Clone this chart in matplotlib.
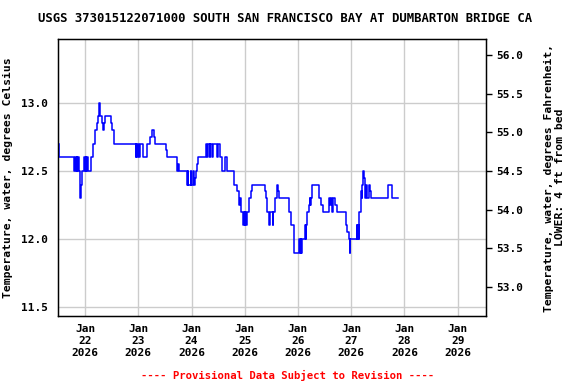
import numpy as np
import matplotlib
matplotlib.use("Agg")
import matplotlib.pyplot as plt
import matplotlib.dates as mdates
from datetime import datetime, timedelta

# hours after 2026-01-22 00:00, water temperature (deg C)
hours = [-11.9, -11.6, -4.8, -4.5, -4.2, -3.8, -3.5, -3.0, -2.7, -2.2,
         -2.1, -1.9, -1.4, -0.4, -0.1, 0.2, 0.6, 0.8, 1.1, 2.9,
         3.8, 4.5, 5.3, 5.9, 6.3, 6.6, 7.8, 8.1, 8.5, 9.0,
         11.5, 12.0, 13.0, 22.8, 23.1, 23.4, 24.0, 24.3, 24.6, 26.3,
         28.1, 29.3, 30.1, 31.1, 31.6, 36.4, 36.8, 41.4, 41.8, 42.3,
         45.9, 46.3, 46.6, 47.6, 47.9, 48.8, 49.1, 49.6, 50.1, 50.5,
         51.1, 54.6, 55.1, 55.5, 56.2, 56.5, 57.4, 57.7, 59.5, 59.8,
         60.9, 61.9, 63.3, 64.1, 67.2, 68.7, 69.2, 69.5, 69.8, 70.1,
         70.4, 71.2, 71.6, 72.0, 72.3, 72.7, 73.2, 74.1, 74.7, 75.3,
         81.0, 81.6, 82.0, 82.8, 83.5, 84.7, 84.9, 85.8, 86.4, 87.1,
         87.6, 92.1, 92.9, 94.4, 96.6, 96.9, 97.2, 97.4, 97.8, 99.2,
         99.5, 99.8, 100.1, 100.8, 101.2, 101.5, 101.9, 102.4, 105.7, 106.5,
         107.1, 110.1, 110.4, 110.8, 111.5, 111.7, 112.8, 113.5, 117.6, 118.3,
         119.1, 119.3, 119.5, 122.5, 122.8, 123.1, 123.4, 123.7, 124.3, 124.5,
         124.7, 124.9, 125.4, 125.7, 126.3, 126.6, 127.0, 127.8, 128.5, 129.0,
         136.4, 136.6, 138.3, 138.6, 141.3]
temp_c = [12.7, 12.6, 12.5, 12.6, 12.5, 12.6, 12.5, 12.6, 12.5, 12.4,
          12.3, 12.4, 12.5, 12.6, 12.5, 12.6, 12.5, 12.6, 12.5, 12.6,
          12.7, 12.8, 12.85, 12.9, 13.0, 12.9, 12.85, 12.8, 12.85, 12.9,
          12.85, 12.8, 12.7, 12.6, 12.7, 12.6, 12.7, 12.6, 12.7, 12.6,
          12.7, 12.75, 12.8, 12.75, 12.7, 12.65, 12.6, 12.5, 12.55, 12.5,
          12.4, 12.5, 12.4, 12.5, 12.4, 12.5, 12.4, 12.45, 12.5, 12.55,
          12.6, 12.7, 12.6, 12.7, 12.6, 12.7, 12.6, 12.7, 12.6, 12.7,
          12.6, 12.5, 12.6, 12.5, 12.4, 12.35, 12.3, 12.25, 12.3, 12.25,
          12.2, 12.1, 12.2, 12.1, 12.2, 12.1, 12.2, 12.3, 12.35, 12.4,
          12.35, 12.3, 12.2, 12.1, 12.2, 12.1, 12.2, 12.3, 12.4, 12.35,
          12.3, 12.2, 12.1, 11.9, 12.0, 11.9, 12.0, 11.9, 12.0, 12.1,
          12.0, 12.1, 12.2, 12.25, 12.3, 12.25, 12.3, 12.4, 12.3, 12.25,
          12.2, 12.3, 12.25, 12.3, 12.2, 12.3, 12.25, 12.2, 12.1, 12.05,
          12.0, 11.9, 12.0, 12.1, 12.0, 12.1, 12.0, 12.2, 12.3, 12.35,
          12.3, 12.4, 12.5, 12.45, 12.3, 12.4, 12.3, 12.4, 12.35, 12.3,
          12.35, 12.4, 12.35, 12.3, 12.3]

day_labels = ["Jan\n22\n2026", "Jan\n23\n2026", "Jan\n24\n2026", "Jan\n25\n2026",
              "Jan\n26\n2026", "Jan\n27\n2026", "Jan\n28\n2026", "Jan\n29\n2026"]
c_ticks = [11.5, 12.0, 12.5, 13.0]
f_ticks = [53.0, 53.5, 54.0, 54.5, 55.0, 55.5, 56.0]

title = "USGS 373015122071000 SOUTH SAN FRANCISCO BAY AT DUMBARTON BRIDGE CA"
footer = "---- Provisional Data Subject to Revision ----"

plt.rcParams['font.family'] = ['DejaVu Sans Mono']
plt.rcParams['font.weight'] = 'bold'
fs = 8.0

t0 = datetime(2026, 1, 22)
times = [t0 + timedelta(hours=h) for h in hours]
day_ticks = [t0 + timedelta(days=i) for i in range(len(day_labels))]

fig = plt.figure(figsize=(5.76, 3.84), dpi=100)
ax = fig.add_axes([0.1007, 0.1771, 0.7439, 0.7206])
ax.plot(times, temp_c, color='#0000ff', lw=1.1, drawstyle='steps-post', zorder=3)

ax.set_xlim(t0 - timedelta(hours=12.2), t0 + timedelta(hours=7 * 24 + 13))
ax.set_ylim(11.436, 13.465)
ax.set_xticks(day_ticks)
ax.set_xticklabels(day_labels, fontsize=fs, fontweight='bold', linespacing=1.2)
ax.set_yticks(c_ticks)
ax.set_yticklabels(["%.1f" % v for v in c_ticks], fontsize=fs, fontweight='bold')
ax.tick_params(axis='x', length=0, pad=6)
ax.tick_params(axis='y', length=0, pad=7)
ax.grid(True, color='#cccccc', lw=1.0, zorder=0)
ax.set_axisbelow(True)
for s in ax.spines.values():
    s.set_linewidth(1.0)
ax.set_ylabel("Temperature, water, degrees Celsius", fontsize=8.2, fontweight='bold')
ax.yaxis.set_label_coords(-0.105, 0.5)

ax2 = ax.twinx()
ax2.set_ylim(52.624, 56.203)
ax2.set_yticks(f_ticks)
ax2.set_yticklabels(["%.1f" % v for v in f_ticks], fontsize=fs, fontweight='bold')
ax2.tick_params(axis='y', length=4, width=1, pad=3)
ax2.set_ylabel("Temperature, water, degrees Fahrenheit,\nLOWER: 4 ft from bed",
               fontsize=8.2, fontweight='bold', linespacing=1.15)
ax2.yaxis.set_label_coords(1.133, 0.5)

fig.text(0.495, 0.951, title, ha='center', va='center', fontsize=8.8, fontweight='bold')
fig.text(0.5, 0.023, footer, ha='center', va='center', fontsize=7.7,
         fontweight='bold', color='#ff0000')

fig.savefig("out.png", dpi=100)
